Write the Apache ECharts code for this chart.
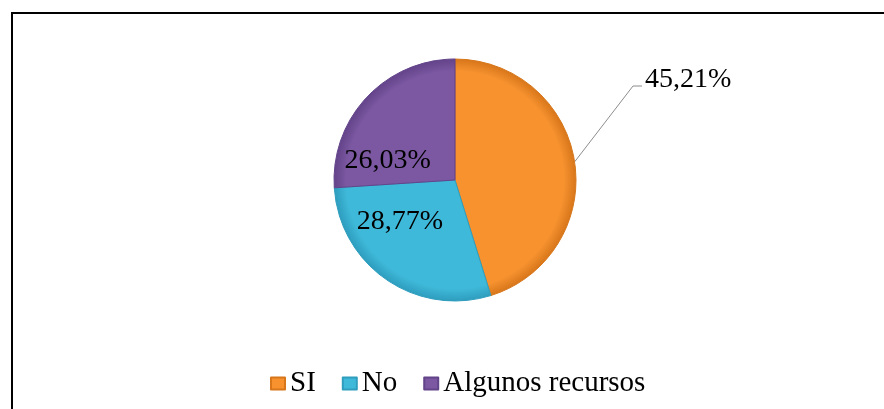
<!DOCTYPE html>
<html>
<head>
<meta charset="utf-8">
<script src="https://cdn.jsdelivr.net/npm/echarts@6/dist/echarts.min.js"></script>
<style>
  html, body { margin: 0; padding: 0; background: #fff; }
  #chart { width: 884px; height: 409px; }
</style>
</head>
<body>
<div id="chart"></div>
<script>
// respuestas y porcentajes
const categories = ['SI', 'No', 'Algunos recursos'];
const values = [45.21, 28.77, 26.03];
const colors = ['#F7922F', '#3FB9D9', '#7B58A1'];
const edgeColors = ['#D7761A', '#2E9DBE', '#63438A'];

const serif = '"Liberation Serif", "Times New Roman", serif';
const pieCenter = [455, 180];
const pieRadius = 121;

let chart = echarts.init(document.getElementById('chart'));

let data = categories.map((name, i) => {
    let item = {
        name: name,
        value: values[i],
        itemStyle: {
            color: {
                type: 'radial', x: pieCenter[0], y: pieCenter[1], r: pieRadius, global: true,
                colorStops: [
                    {offset: 0, color: colors[i]},
                    {offset: 0.9, color: colors[i]},
                    {offset: 1, color: edgeColors[i]}
                ]
            },
            borderColor: edgeColors[i],
            borderWidth: 1
        }
    };
    if (i === 1) {
        item.label = {position: 'inside', offset: [-19, -11]};
    } else if (i === 2) {
        item.label = {position: 'inside', offset: [-21, 24]};
    }
    return item;
});

let option = {
    animation: false,
    graphic: [{
        type: 'rect',
        shape: {x: 12, y: 13, width: 900, height: 420},
        style: {fill: 'none', stroke: '#000', lineWidth: 2}
    }],
    legend: {
        data: categories.map((name, i) => ({name: name, itemStyle: {color: colors[i], borderColor: edgeColors[i]}})),
        left: 265,
        top: 364,
        icon: 'rect',
        itemWidth: 14,
        itemHeight: 12,
        itemGap: 26,
        textStyle: {fontFamily: serif, fontSize: 29, color: '#000', padding: [2, 0, 0, 0]}
    },
    series: [{
        type: 'pie',
        center: pieCenter,
        radius: pieRadius,
        startAngle: 90,
        clockwise: true,
        data: data,
        label: {
            show: true,
            position: 'outside',
            fontFamily: serif,
            fontSize: 28,
            color: '#000',
            formatter: (p) => p.value.toFixed(2).replace('.', ',') + '%'
        },
        labelLine: {
            show: true,
            lineStyle: {color: '#8c8c8c', width: 1}
        },
        labelLayout: function (p) {
            if (p.dataIndex !== 0) return {};
            let start = p.labelLinePoints ? p.labelLinePoints[0] : [576, 163];
            return {
                x: 645,
                y: 80,
                align: 'left',
                verticalAlign: 'middle',
                labelLinePoints: [start, [633, 86], [642, 86]]
            };
        },
        emphasis: {disabled: true}
    }]
};

chart.setOption(option);
</script>
</body>
</html>
